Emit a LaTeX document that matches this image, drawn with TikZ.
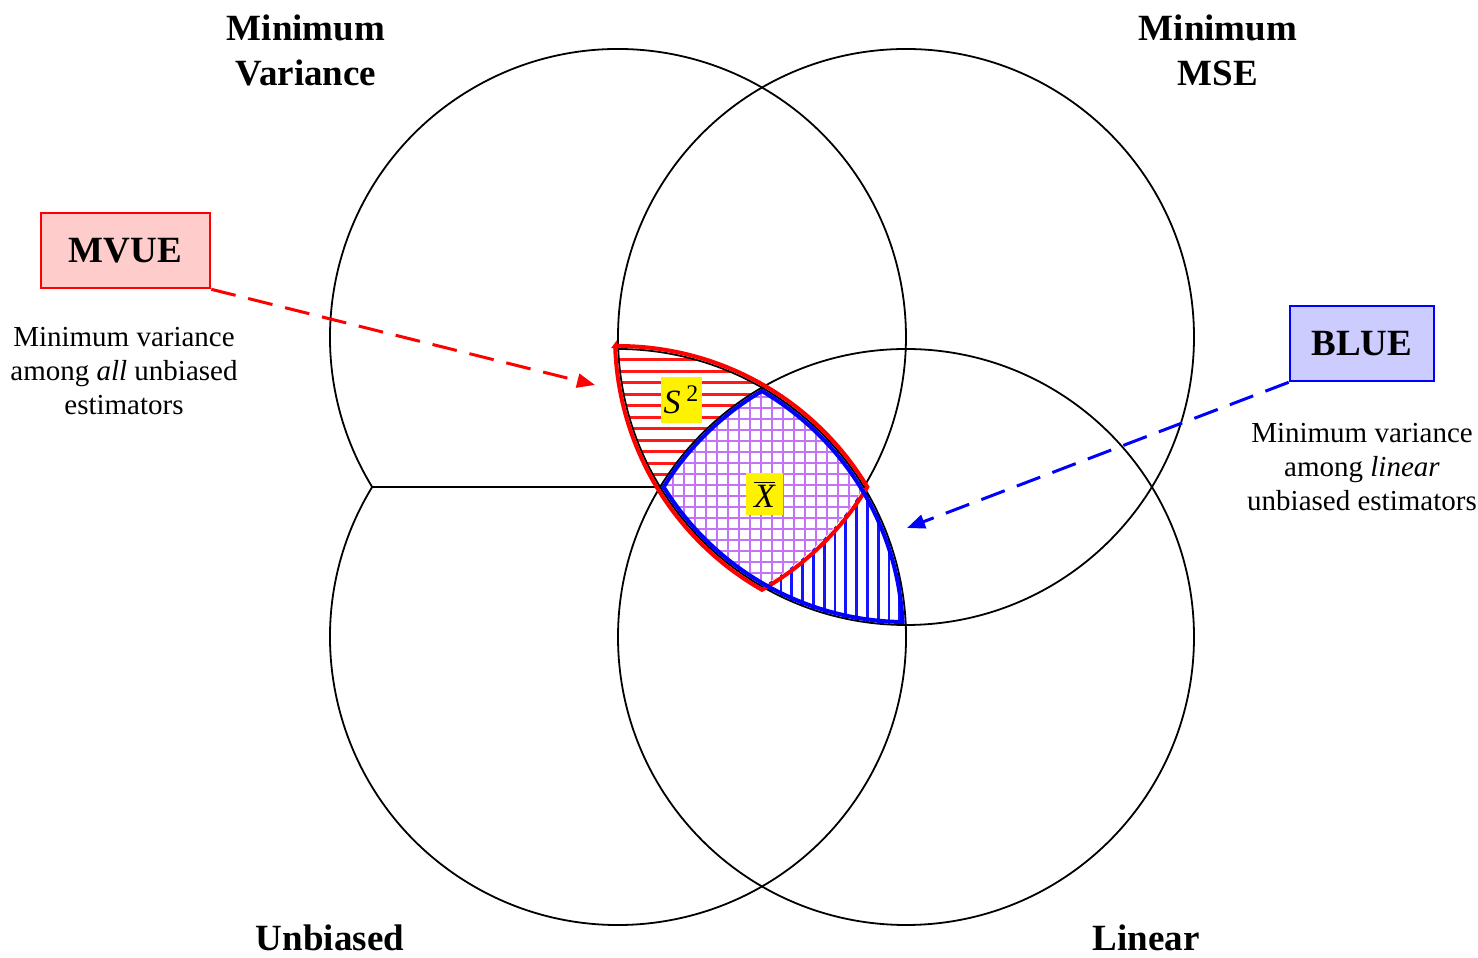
\documentclass[tikz,border=0pt]{standalone}
\usepackage{fontspec}
\setmainfont{Liberation Serif}
\usetikzlibrary{arrows.meta,positioning}
\definecolor{hatchred}{RGB}{255,25,25}
\definecolor{gridviolet}{RGB}{195,115,245}
\definecolor{hatchblue}{RGB}{20,20,255}
\definecolor{mvuefill}{RGB}{255,204,204}
\definecolor{bluefill}{RGB}{204,204,255}
\tikzset{
    set line/.style={black, line width=0.9pt},
    set title/.style={font=\fontsize{18.5}{22.5}\selectfont\bfseries, align=center},
    note text/.style={font=\fontsize{14.5}{17}\selectfont, align=center},
    estbox/.style={draw, line width=1.3pt, inner sep=0pt, minimum height=37.5pt,
        font=\fontsize{18.5}{22.5}\selectfont\bfseries},
    statlabel/.style={fill=yellow, inner sep=1pt, font=\fontsize{17}{17}\selectfont},
    pointer/.style={line width=1.5pt, dash pattern=on 12.5pt off 6.5pt,
        -{Triangle[length=9pt,width=7pt]}}
}

\begin{document}
\begin{tikzpicture}[x=0.5pt,y=0.5pt]
    \useasboundingbox (0,0) rectangle (1478,958);
    \def\rad{288}
    % centres of the four sets
    \coordinate (TL) at (618,621);
    \coordinate (TR) at (906,621);
    \coordinate (BL) at (618,321);
    \coordinate (BR) at (906,321);
    \coordinate (chordL) at (372,471);
    \coordinate (chordR) at (660,471);

    % MVUE part: red stripes
    \begin{scope}
        \clip (TL) circle[radius=\rad];
        \clip (TR) circle[radius=\rad];
        \clip (BL) circle[radius=\rad];
        \foreach \yy in {368,379.5,...,620}
            \draw[hatchred, line width=1.5pt] (600,\yy) -- (900,\yy);
    \end{scope}
    % BLUE part: blue stripes
    \begin{scope}
        \clip (BR) circle[radius=\rad];
        \clip (BL) circle[radius=\rad];
        \clip (TR) circle[radius=\rad];
        \foreach \xx in {662.2,673,...,912}
            \draw[hatchblue, line width=1.35pt] (\xx,320) -- (\xx,580);
    \end{scope}
    % both: violet grid
    \begin{scope}
        \clip (TL) circle[radius=\rad];
        \clip (TR) circle[radius=\rad];
        \clip (BL) circle[radius=\rad];
        \clip (BR) circle[radius=\rad];
        \fill[white] (640,360) rectangle (880,580);
        \foreach \xx in {651,662,...,880}
            \draw[gridviolet, line width=1.4pt] (\xx,360) -- (\xx,580);
        \foreach \yy in {363,374,...,580}
            \draw[gridviolet, line width=1.4pt] (640,\yy) -- (880,\yy);
    \end{scope}

    % set outlines
    \draw[set line] (TR) circle[radius=\rad];
    \draw[set line] (BR) circle[radius=\rad];
    \draw[set line] (TL) ++(211.37:\rad) arc[start angle=211.37, end angle=-31.37, radius=\rad];
    \draw[set line] (BL) ++(148.63:\rad) arc[start angle=148.63, end angle=450, radius=\rad];
    \draw[set line] (chordL) -- (chordR);

    % region borders
    \draw[red, line width=2pt] (BL) ++(90.57:291)
        arc[start angle=90.57, end angle=31.03, radius=291]
        arc[start angle=-31.03, end angle=-60.34, radius=291]
        arc[start angle=240.34, end angle=181.77, radius=291] -- cycle;
    \draw[blue, line width=2pt] (BR) ++(148.24:285)
        arc[start angle=148.24, end angle=120.35, radius=285]
        arc[start angle=59.65, end angle=3.02, radius=285]
        arc[start angle=269.32, end angle=211.76, radius=285] -- cycle;

    \node[statlabel, minimum width=20.5pt, minimum height=23pt] (s2) at (681.5,558) {\textit{S}\,\textsuperscript{2}};
    \node[statlabel, minimum width=18.5pt, minimum height=21pt] (xbar) at (764.5,464) {$\overline{\textit{X}}$};

    \node[set title] (mvlabel) at (306,907.5) {Minimum\\Variance};
    \node[set title] (mselabel) at (1218,907.5) {Minimum\\MSE};
    \node[set title] (unblabel) at (330,20) {Unbiased};
    \node[set title] (linlabel) at (1146,20) {Linear};

    \node[estbox, draw=red, fill=mvuefill, minimum width=84.5pt] (mvuebox) at (125.5,707.5) {MVUE};
    \node[estbox, draw=blue, fill=bluefill, minimum width=72pt] (bluebox) at (1362,614.5) {BLUE};
    \node[note text] (mvuenote) at (124,587) {Minimum variance\\among \textit{all} unbiased\\estimators};
    \node[note text] (bluenote) at (1362,491) {Minimum variance\\among \textit{linear}\\unbiased estimators};

    \coordinate (mvuetip) at (595,573);
    \coordinate (bluetip) at (907,430);
    \draw[pointer, red] (mvuebox.south east) -- (mvuetip);
    \draw[pointer, blue] (bluebox.south west) -- (bluetip);
\end{tikzpicture}
\end{document}
